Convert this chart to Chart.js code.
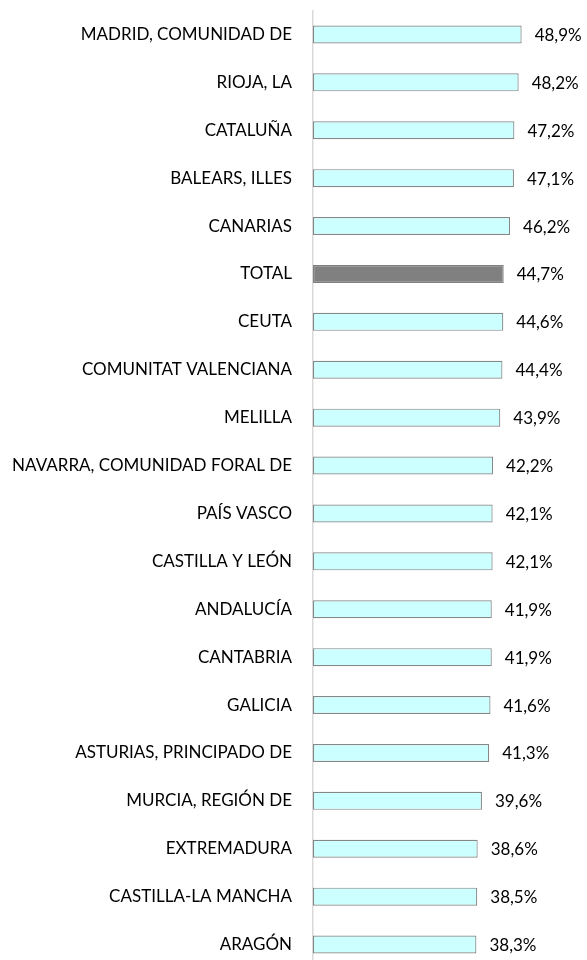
<!DOCTYPE html>
<html>
<head>
<meta charset="utf-8">
<script src="https://cdn.jsdelivr.net/npm/chart.js@4.4.1/dist/chart.umd.min.js"></script>
<style>
  html, body { margin: 0; padding: 0; background: #fff; }
  #wrap { width: 587px; height: 960px; overflow: hidden; position: relative; }
  #wrap canvas { display: block; }
</style>
</head>
<body>
<div id="wrap">
  <canvas id="chart" width="587" height="970" style="width:587px;height:970px"></canvas>
</div>
<script>
const regions = [
  'MADRID, COMUNIDAD DE', 'RIOJA, LA', 'CATALUÑA', 'BALEARS, ILLES', 'CANARIAS',
  'TOTAL', 'CEUTA', 'COMUNITAT VALENCIANA', 'MELILLA', 'NAVARRA, COMUNIDAD FORAL DE',
  'PAÍS VASCO', 'CASTILLA Y LEÓN', 'ANDALUCÍA', 'CANTABRIA', 'GALICIA',
  'ASTURIAS, PRINCIPADO DE', 'MURCIA, REGIÓN DE', 'EXTREMADURA', 'CASTILLA-LA MANCHA', 'ARAGÓN'
];
const shares = [
  48.9, 48.2, 47.2, 47.1, 46.2,
  44.7, 44.6, 44.4, 43.9, 42.2,
  42.1, 42.1, 41.9, 41.9, 41.6,
  41.3, 39.6, 38.6, 38.5, 38.3
];

const FONT = 'Lato, "Open Sans", sans-serif';

// value labels to the right of each bar, with a comma decimal
const valueLabels = {
  id: 'valueLabels',
  afterDatasetsDraw(chart) {
    const ctx = chart.ctx;
    const meta = chart.getDatasetMeta(0);
    ctx.save();
    ctx.font = '17px ' + FONT;
    ctx.fillStyle = '#000';
    ctx.textAlign = 'left';
    ctx.textBaseline = 'middle';
    meta.data.forEach((bar, i) => {
      const txt = shares[i].toFixed(1).replace('.', ',') + '%';
      ctx.fillText(txt, bar.x + 13, bar.y + 1);
    });
    ctx.restore();
  }
};

new Chart(document.getElementById('chart'), {
  type: 'bar',
  data: {
    labels: regions,
    datasets: [{
      data: shares,
      backgroundColor: regions.map(r => r === 'TOTAL' ? '#808080' : '#ccffff'),
      borderColor: regions.map(r => r === 'TOTAL' ? '#808080' : '#878787'),
      borderWidth: 1.2,
      borderSkipped: false,
      barPercentage: 0.376,
      categoryPercentage: 1
    }]
  },
  options: {
    indexAxis: 'y',
    responsive: false,
    animation: false,
    layout: { padding: { top: 10.5, right: 18, bottom: 1.5, left: 0 } },
    plugins: { legend: { display: false }, tooltip: { enabled: false } },
    scales: {
      x: { display: false, min: 0, max: 60 },
      y: {
        afterFit(scale) {
          scale.width = 313;
          scale.paddingTop = 0;
          scale.paddingBottom = 0;
        },
        grid: { display: false, drawTicks: false },
        border: { display: true, color: '#d9d9d9', width: 1.5 },
        ticks: { color: '#000', padding: 21, font: { family: FONT, size: 17 } }
      }
    }
  },
  plugins: [valueLabels]
});
</script>
</body>
</html>
